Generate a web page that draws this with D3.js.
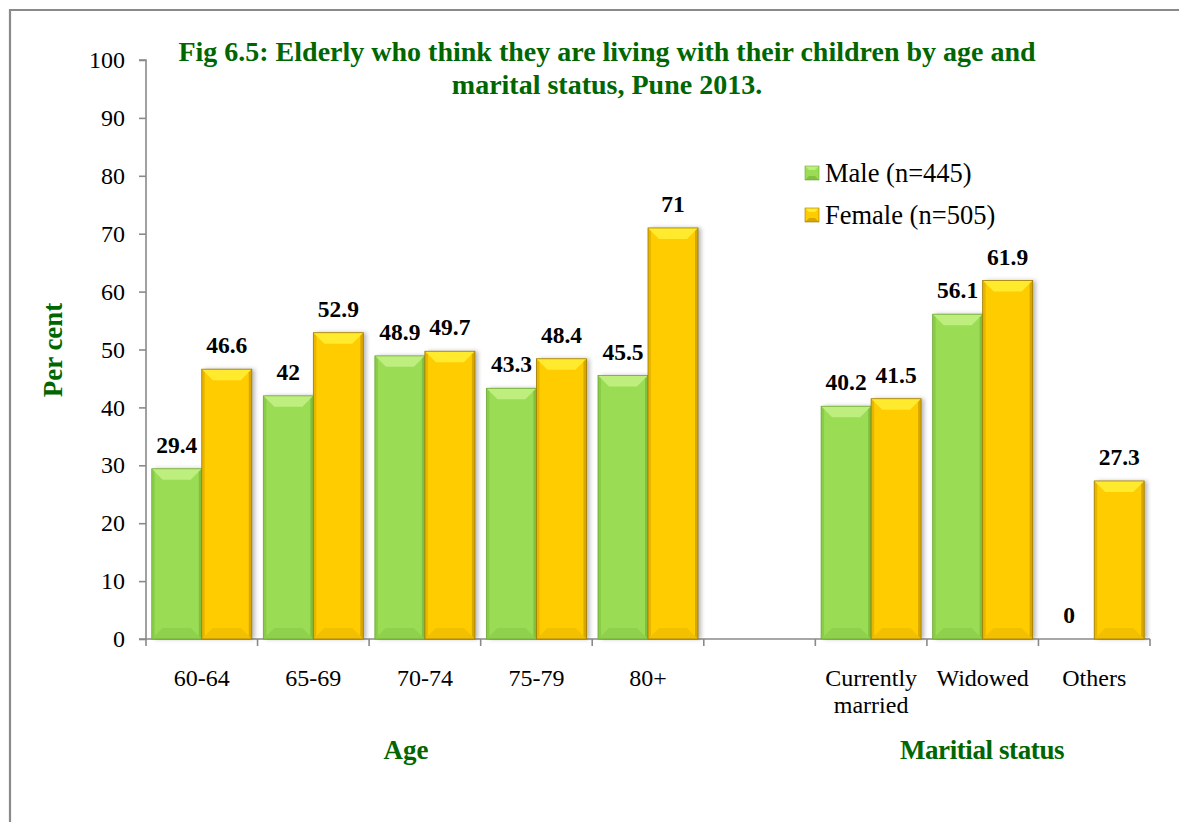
<!DOCTYPE html>
<html>
<head>
<meta charset="utf-8">
<script src="https://cdn.jsdelivr.net/npm/d3@7"></script>
<style>
  html, body { margin: 0; padding: 0; background: #fff; }
  svg { display: block; }
  text { font-family: "Liberation Serif", "Times New Roman", serif; }
</style>
</head>
<body>
<svg id="chart" width="1179" height="822"></svg>
<script>
// ---- data ----
const categories = ["60-64", "65-69", "70-74", "75-79", "80+", "", "Currently\nmarried", "Widowed", "Others"];
const maleValues = [29.4, 42, 48.9, 43.3, 45.5, null, 40.2, 56.1, 0];
const femaleValues = [46.6, 52.9, 49.7, 48.4, 71, null, 41.5, 61.9, 27.3];
const seriesNames = ["Male (n=445)", "Female (n=505)"];
const yTicks = [0, 10, 20, 30, 40, 50, 60, 70, 80, 90, 100];
const titleLines = ["Fig 6.5: Elderly who think they are living with their children by age and", "marital status, Pune 2013."];
const groupLabels = ["Age", "Maritial status"];

// ---- layout ----
const svg = d3.select("#chart");
const W = 1179, H = 822;
const plot = { left: 146, right: 1150, top: 60, bottom: 639 };
const green = "#9ADD55", orange = "#FFCC00";
const palette = {
  male:   { main: green,  top: "#BDEE7E", side: "#80C13F", bottom: "#8FD04D", stroke: "#6FA838" },
  female: { main: orange, top: "#FFEA2E", side: "#D9A600", bottom: "#F3C000", stroke: "#9C7A00" }
};
const titleGreen = "#006600";

// border
svg.append("path")
  .attr("d", `M10,${H + 5} L10,10 L${W + 5},10`)
  .attr("fill", "none").attr("stroke", "#8a8a8a").attr("stroke-width", 2.2);

// shadow filter
const defs = svg.append("defs");
const f = defs.append("filter").attr("id", "shadow").attr("x", "-20%").attr("y", "-20%").attr("width", "150%").attr("height", "140%");
f.append("feDropShadow").attr("dx", 3).attr("dy", 0).attr("stdDeviation", 2.2)
  .attr("flood-color", "#000").attr("flood-opacity", 0.28);

const x0 = d3.scaleBand().domain(d3.range(categories.length)).range([plot.left, plot.right]).padding(0);
const y = d3.scaleLinear().domain([0, 100]).range([plot.bottom, plot.top]);
const barW = 50;
const x1 = d3.scaleBand().domain(["male", "female"]).range([0, barW * 2]).padding(0);
const groupOffset = (x0.bandwidth() - barW * 2) / 2;

// y axis
const yAxis = d3.axisLeft(y).tickValues(yTicks).tickSize(7).tickPadding(14);
const gy = svg.append("g").attr("transform", `translate(${plot.left},0)`).call(yAxis);
gy.select(".domain").attr("stroke", "#8a8a8a").attr("stroke-width", 1.6).attr("d", `M-7,${plot.top}H0V${plot.bottom}H-7`);
gy.selectAll(".tick line").attr("stroke", "#8a8a8a").attr("stroke-width", 1.6);
gy.selectAll(".tick text").attr("font-size", 24).attr("fill", "#000")
  .style("font-family", '"Liberation Serif", serif');

// x axis (line + ticks at band boundaries)
const gx = svg.append("g");
gx.append("line").attr("x1", plot.left).attr("x2", plot.right).attr("y1", plot.bottom).attr("y2", plot.bottom)
  .attr("stroke", "#8a8a8a").attr("stroke-width", 1.6);
const boundaries = d3.range(categories.length).map(i => x0(i)).concat([x0.range()[1]]);
gx.selectAll(".xt").data(boundaries).join("line")
  .attr("x1", d => d).attr("x2", d => d).attr("y1", plot.bottom).attr("y2", plot.bottom + 7)
  .attr("stroke", "#8a8a8a").attr("stroke-width", 1.6);
gx.selectAll(".xl").data(categories).join("text")
  .attr("text-anchor", "middle").attr("font-size", 24).attr("fill", "#000")
  .attr("transform", (d, i) => `translate(${x0(i) + x0.bandwidth() / 2},${plot.bottom + 47})`)
  .each(function (d) {
    const lines = d.split("\n");
    d3.select(this).selectAll("tspan").data(lines).join("tspan")
      .attr("x", 0).attr("dy", (l, k) => k === 0 ? 0 : 27).text(l => l);
  });

// bars
function bevelBar(g, x, w, v, pal) {
  const yt = y(v), yb = y(0), h = yb - yt;
  if (h <= 0) return;
  const b = Math.min(11, h / 2), s = 3;
  const bar = g.append("g");
  bar.append("rect").attr("x", x).attr("y", yt).attr("width", w).attr("height", h)
    .attr("fill", pal.main).attr("filter", "url(#shadow)");
  // top bevel
  bar.append("polygon").attr("points", [[x, yt], [x + w, yt], [x + w - b, yt + b], [x + b, yt + b]].join(" "))
    .attr("fill", pal.top);
  // bottom bevel
  bar.append("polygon").attr("points", [[x, yb], [x + w, yb], [x + w - b, yb - b], [x + b, yb - b]].join(" "))
    .attr("fill", pal.bottom);
  // side edges
  bar.append("polygon").attr("points", [[x, yt], [x + s, yt + s], [x + s, yb - s], [x, yb]].join(" "))
    .attr("fill", pal.side).attr("opacity", 0.6);
  bar.append("polygon").attr("points", [[x + w, yt], [x + w - s, yt + s], [x + w - s, yb - s], [x + w, yb]].join(" "))
    .attr("fill", pal.side);
  bar.append("rect").attr("x", x).attr("y", yt).attr("width", w).attr("height", h)
    .attr("fill", "none").attr("stroke", pal.stroke).attr("stroke-width", 0.8);
}

const barsG = svg.append("g");
const labelsG = svg.append("g");
categories.forEach((c, i) => {
  [["male", maleValues[i]], ["female", femaleValues[i]]].forEach(([k, v]) => {
    if (v === null || v === undefined) return;
    const bx = x0(i) + groupOffset + x1(k);
    bevelBar(barsG, bx, x1.bandwidth(), v, palette[k]);
    labelsG.append("text").attr("x", bx + x1.bandwidth() / 2).attr("y", y(v) - 16)
      .attr("text-anchor", "middle").attr("font-size", 23.5).attr("font-weight", "bold").attr("fill", "#000")
      .text(v);
  });
});

// title
svg.append("text").attr("text-anchor", "middle").attr("font-size", 28).attr("font-weight", "bold")
  .attr("fill", titleGreen)
  .selectAll("tspan").data(titleLines).join("tspan")
  .attr("x", 607).attr("y", (d, i) => 61 + i * 33).text(d => d);

// y title
svg.append("text").attr("transform", "translate(62,350) rotate(-90)").attr("text-anchor", "middle")
  .attr("font-size", 27).attr("font-weight", "bold").attr("fill", titleGreen).text("Per cent");

// group labels
svg.append("text").attr("x", 406).attr("y", 759).attr("text-anchor", "middle")
  .attr("font-size", 27).attr("font-weight", "bold").attr("fill", titleGreen).text(groupLabels[0]);
svg.append("text").attr("x", 982).attr("y", 759).attr("text-anchor", "middle")
  .attr("font-size", 27).attr("font-weight", "bold").attr("fill", titleGreen).style("letter-spacing", "-0.4px").text(groupLabels[1]);

// legend
const legend = svg.append("g");
["male", "female"].forEach((k, i) => {
  const ly = 166 + i * 42;
  const pal = palette[k];
  const sx = 805, sz = 14;
  legend.append("rect").attr("x", sx).attr("y", ly).attr("width", sz).attr("height", sz).attr("fill", pal.main);
  legend.append("polygon").attr("points", [[sx, ly], [sx + sz, ly], [sx + sz - 4, ly + 4], [sx + 4, ly + 4]].join(" ")).attr("fill", pal.top);
  legend.append("polygon").attr("points", [[sx, ly + sz], [sx + sz, ly + sz], [sx + sz - 4, ly + sz - 4], [sx + 4, ly + sz - 4]].join(" ")).attr("fill", pal.side);
  legend.append("rect").attr("x", sx).attr("y", ly).attr("width", sz).attr("height", sz).attr("fill", "none").attr("stroke", pal.stroke).attr("stroke-width", 0.6);
  legend.append("text").attr("x", 825).attr("y", ly + 16).attr("font-size", 26.5).attr("fill", "#000").text(seriesNames[i]);
});
</script>
</body>
</html>
